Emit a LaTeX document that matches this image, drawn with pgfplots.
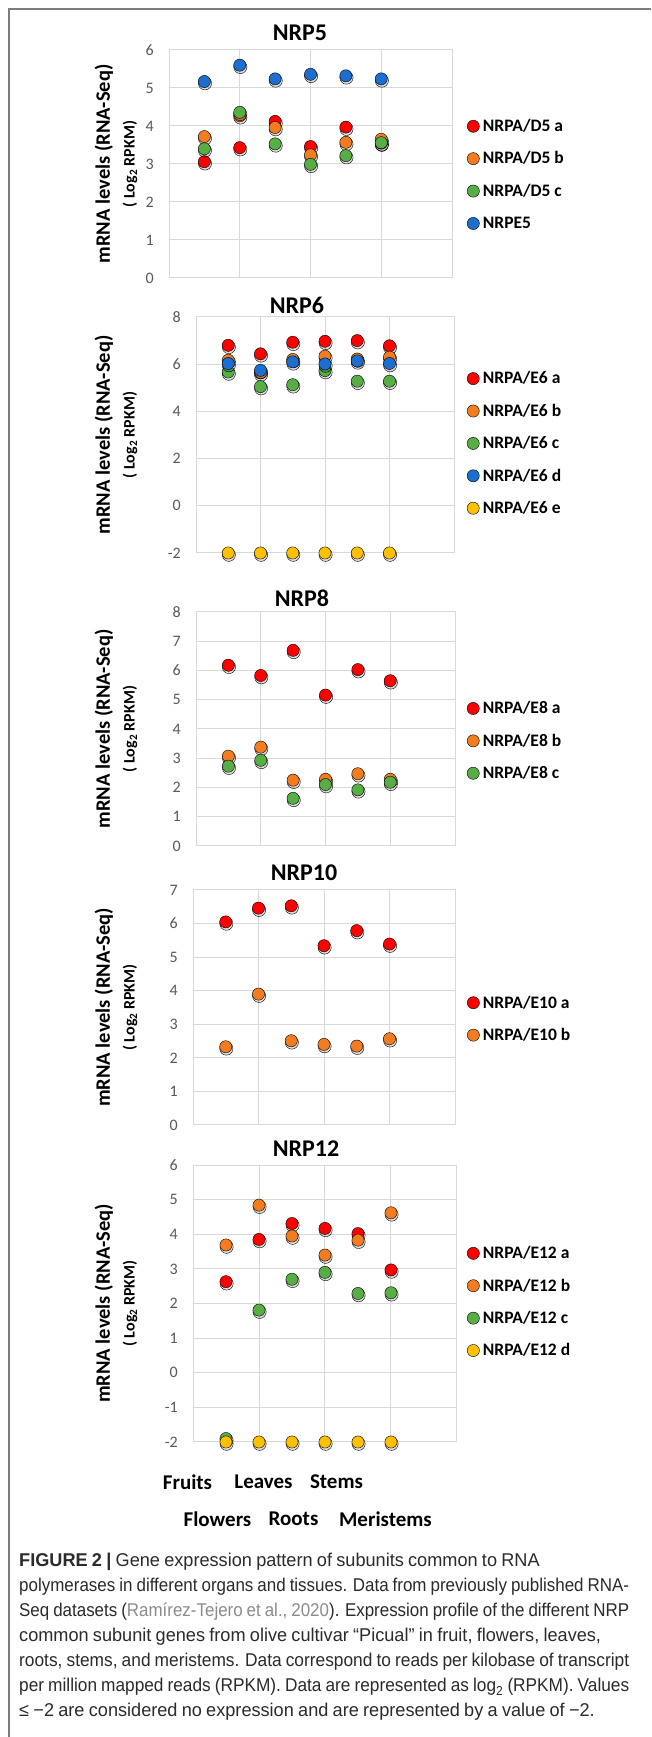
\documentclass[border=0pt]{standalone}
\usepackage{fontspec}
\usepackage{graphicx}
\setmainfont{Carlito}
\newfontfamily\capfont[FakeStretch=0.98, WordSpace=0.85]{Liberation Sans}
\usepackage{pgfplots}
\usepackage{pgfplotstable}
\pgfplotsset{compat=1.18}
\definecolor{cRed}{HTML}{FF0000}
\definecolor{cOrange}{HTML}{F47C20}
\definecolor{cGreen}{HTML}{56AE45}
\definecolor{cBlue}{HTML}{1C6FCF}
\definecolor{cYellow}{HTML}{FFC000}
\definecolor{gridc}{HTML}{D9D9D9}
\definecolor{tickc}{HTML}{595959}
\definecolor{capc}{HTML}{2B2B2B}
\definecolor{citec}{HTML}{8C8C8C}
\definecolor{framec}{HTML}{7D7D7D}

\pgfplotstableread{
x a b c d
1 3.06 3.72 3.40 5.17
2 3.43 4.27 4.36 5.60
3 4.12 3.96 3.53 5.24
4 3.46 3.24 2.99 5.36
5 3.97 3.57 3.22 5.32
6 3.55 3.65 3.56 5.24
}\tFive
\pgfplotstableread{
x a b c d e
1 6.80 6.17 5.67 6.03 -2
2 6.44 5.63 5.05 5.74 -2
3 6.93 6.20 5.13 6.10 -2
4 6.97 6.34 5.73 6.01 -2
5 7.00 6.22 5.28 6.14 -2
6 6.78 6.30 5.28 6.03 -2
}\tSix
\pgfplotstableread{
x a b c
1 6.18 3.07 2.73
2 5.83 3.38 2.93
3 6.69 2.25 1.63
4 5.16 2.28 2.10
5 6.03 2.47 1.92
6 5.65 2.28 2.18
}\tEight
\pgfplotstableread{
x a b
1 6.05 2.33
2 6.46 3.90
3 6.53 2.51
4 5.34 2.40
5 5.79 2.35
6 5.39 2.57
}\tTen
\pgfplotstableread{
x a b c d
1 2.63 3.69 -1.90 -2
2 3.85 4.84 1.81 -2
3 4.31 3.95 2.70 -2
4 4.17 3.40 2.90 -2
5 4.02 3.83 2.29 -2
6 2.97 4.62 2.31 -2
}\tTwelve

\newcommand{\ser}[3]{%
  \addplot[only marks, mark=*, mark size=6.6pt, mark options={draw=none, fill=black, fill opacity=0.13, xshift=0.6pt, yshift=-1.8pt}, forget plot] table[x=x,y=#2]{#1};
  \addplot[only marks, mark=*, mark size=6.1pt, mark options={draw=none, fill=#3}] table[x=x,y=#2]{#1};
}

\pgfplotsset{
  nrp/.style={
    scale only axis, anchor=south west, clip=false,
    xmin=0, xmax=8, xtick={0,2,4,6,8}, xticklabel=\empty,
    major tick length=0pt,
    grid=major, grid style={draw=gridc, line width=1pt},
    axis line style={draw=gridc, line width=1pt},
    yticklabel={\pgfmathparse{int(\tick)}\pgfmathresult},
    yticklabel style={font=\fontsize{16}{16}\selectfont, text=tickc, anchor=east, inner sep=0pt, xshift=-15pt},
    legend cell align=left,
    legend image code/.code={\draw[only marks, #1] plot coordinates {(6pt,-0.6pt)};},
    legend style={draw=none, fill=none, inner sep=0pt, anchor=west,
      font=\bfseries\fontsize{17.5}{17.5}\selectfont, row sep=19.4pt, column sep=3.5pt,
      nodes={inner sep=0pt, text height=12.2pt, text depth=0.4pt}},
  }
}

\begin{document}
\begin{tikzpicture}
\useasboundingbox (0,0) rectangle (651pt,1737pt);
\fill[white] (0,0) rectangle (651pt,1737pt);
\draw[framec, line width=1.3pt] (9pt,0pt) -- (9pt,1728pt) -- (651pt,1728pt);

% NRP5
\begin{axis}[nrp, at={(169pt,1459pt)}, width=283pt, height=228pt,
  ymin=0, ymax=6, ytick={0,1,...,6},
  legend style={at={(1.053,0.454)}},
  legend entries={NRPA/D5 a, NRPA/D5 b, NRPA/D5 c, NRPE5}]
\ser{\tFive}{a}{cRed}
\ser{\tFive}{b}{cOrange}
\ser{\tFive}{c}{cGreen}
\ser{\tFive}{d}{cBlue}
\end{axis}

% NRP6
\begin{axis}[nrp, at={(196pt,1184pt)}, width=258pt, height=236pt,
  ymin=-2, ymax=8, ytick={-2,0,...,8},
  legend style={at={(1.050,0.466)}},
  legend entries={NRPA/E6 a, NRPA/E6 b, NRPA/E6 c, NRPA/E6 d, NRPA/E6 e}]
\ser{\tSix}{a}{cRed}
\ser{\tSix}{b}{cOrange}
\ser{\tSix}{c}{cGreen}
\ser{\tSix}{d}{cBlue}
\ser{\tSix}{e}{cYellow}
\end{axis}

% NRP8
\begin{axis}[nrp, at={(196pt,891pt)}, width=259pt, height=234pt,
  ymin=0, ymax=8, ytick={0,1,...,8},
  legend style={at={(1.046,0.451)}},
  legend entries={NRPA/E8 a, NRPA/E8 b, NRPA/E8 c}]
\ser{\tEight}{a}{cRed}
\ser{\tEight}{b}{cOrange}
\ser{\tEight}{c}{cGreen}
\end{axis}

% NRP10
\begin{axis}[nrp, at={(193pt,612pt)}, width=262pt, height=235pt,
  ymin=0, ymax=7, ytick={0,1,...,7},
  legend style={at={(1.046,0.453)}},
  legend entries={NRPA/E10 a, NRPA/E10 b}]
\ser{\tTen}{a}{cRed}
\ser{\tTen}{b}{cOrange}
\end{axis}

% NRP12
\begin{axis}[nrp, at={(193pt,295pt)}, width=264pt, height=277pt,
  ymin=-2, ymax=6, ytick={-2,-1,...,6},
  legend style={at={(1.038,0.507)}},
  legend entries={NRPA/E12 a, NRPA/E12 b, NRPA/E12 c, NRPA/E12 d}]
\ser{\tTwelve}{a}{cRed}
\ser{\tTwelve}{b}{cOrange}
\ser{\tTwelve}{c}{cGreen}
\ser{\tTwelve}{d}{cYellow}
\end{axis}

% titles
\begin{scope}[every node/.style={font=\bfseries\fontsize{24}{24}\selectfont}]
\node at (300pt,1704pt) {NRP5};
\node at (297pt,1432pt) {NRP6};
\node at (302pt,1139pt) {NRP8};
\node at (304pt,864pt) {NRP10};
\node at (306pt,588pt) {NRP12};
\end{scope}

% y labels
\foreach \cy in {1573,1302,1008,729.5,433.5}{
  \node[rotate=90, font=\bfseries\fontsize{20.5}{20.5}\selectfont] at (104pt,\cy pt) {mRNA levels (RNA-Seq)};
  \node[rotate=90, font=\bfseries\fontsize{16}{16}\selectfont] at (130pt,\cy pt) {( Log\textsubscript{2} RPKM)};
}

% category labels
\begin{scope}[every node/.style={font=\bfseries\fontsize{21}{21}\selectfont}]
\node at (187.5pt,255pt) {Fruits};
\node at (263.5pt,255pt) {Leaves};
\node at (336.5pt,255pt) {Stems};
\node at (217.5pt,218pt) {Flowers};
\node at (293.5pt,218pt) {Roots};
\node at (385.5pt,218pt) {Meristems};
\end{scope}

% caption
\begin{scope}[every node/.style={anchor=west, inner sep=0pt, text=capc, text height=14pt, text depth=4pt, font=\capfont\fontsize{18.5}{24}\selectfont}]
\node at (19pt,175pt) {{\bfseries FIGURE 2 |} Gene expression pattern of subunits common to RNA};
\node at (19pt,150pt) {\resizebox{610pt}{\height}{polymerases in different organs and tissues. Data from previously published RNA-}};
\node at (19pt,125pt) {\resizebox{610pt}{\height}{Seq datasets ({\color{citec}Ramírez-Tejero et al., 2020}). Expression profile of the different NRP}};
\node at (19pt,100pt) {common subunit genes from olive cultivar “Picual” in fruit, flowers, leaves,};
\node at (19pt,75pt) {\resizebox{610pt}{\height}{roots, stems, and meristems. Data correspond to reads per kilobase of transcript}};
\node at (19pt,50pt) {\resizebox{610pt}{\height}{per million mapped reads (RPKM). Data are represented as log\textsubscript{2} (RPKM). Values}};
\node at (19pt,25pt) {\resizebox{!}{\height}{≤ −2 are considered no expression and are represented by a value of −2.}};
\end{scope}
\end{tikzpicture}
\end{document}
